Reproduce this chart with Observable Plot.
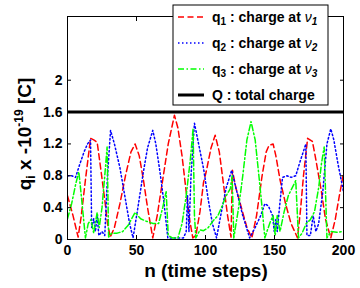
<!DOCTYPE html>
<html><head><meta charset="utf-8">
<script src="https://cdn.jsdelivr.net/npm/d3@7"></script>
<script src="https://cdn.jsdelivr.net/npm/@observablehq/plot@0.6"></script>
<style>body{margin:0;background:#fff}#c{width:360px;height:288px}</style>
</head><body><div id="c"></div><script>
// q1 : charge at v1 (red dashed)
const q1N = [0,4,7.7,10,13,16.7,19,21.5,24,27,29,31,34,38,42,46,49,52,55,58,61.8,65,69,73,77.5,80,83,86,88.5,90.8,93,96,98.6,100.5,104,107,110,113,116,118.5,119.5,122,126,130,133.6,137,141,144,146,149,151,154,158,162,166.7,169,171,174,177.5,180,184,187,190.8,194,197,200];
const q1V = [0.55,0.3,0.03,0.3,0.75,1.27,1.25,1.22,0.9,0.5,0.2,0.03,0.15,0.45,0.8,1.1,1.2,1.05,0.75,0.4,0.02,0.3,0.75,1.2,1.56,1.4,1.05,0.6,0.25,0.02,0.05,0.35,0.72,0.85,1.15,1.31,1.1,0.7,0.3,0.03,0.87,0.65,0.4,0.15,0.02,0.3,0.8,1.1,1.18,1.2,1.05,0.75,0.45,0.2,0.02,0.4,0.8,1.27,1.23,1.0,0.6,0.25,0.02,0.25,0.55,0.83];
// q2 : charge at v2 (blue dotted)
const q2N = [0,3,5.8,9,12,14.5,16.7,17.5,19,20.2,21.5,22.7,25,27,29,31.2,34,38,42,45,47.5,51,55,58,61.8,64,67,70,72.7,78,84,86,87,88,89.5,92,95,98.6,102,105,108,111,115,119,122,127,132,136,140,143,145.6,148.6,149.8,151,152,153.6,155.8,159,162,165.4,168,172.7,173.5,176,178,180,182,185,188,190.8,193,196,200];
const q2V = [0.8,0.8,0.78,0.95,1.1,1.2,1.25,0.15,0.26,0.1,0.3,0.05,0.1,0.05,0.8,1.37,1.2,0.9,0.5,0.2,0.02,0.4,0.85,1.15,1.37,1.2,0.85,0.45,0.02,0.02,0.02,0.1,0.55,0.1,0.8,1.46,1.2,0.89,0.5,0.2,0.02,0.3,0.65,0.87,0.65,0.3,0.02,0.15,0.3,0.45,0.42,0.3,0.1,0.25,0.1,0.4,0.78,0.8,0.78,0.8,0.95,1.2,0.05,0.05,0.3,0.1,0.2,0.6,1.2,1.39,1.25,0.95,0.6];
// q3 : charge at v3 (green dash-dot)
const q3N = [0,3,6,8.2,10,13,15,17,19,21.5,23,25,27,28.7,29.8,32,36,40,44,49,53,57,62,66,69,71.5,73,76,80,83,86,89,91,92,93,96,98.6,102,105.8,109,112,115,118,119.3,120.5,124,127,130,133,136,139,141,143,144.5,146.9,149,150.5,152,154,157,160,165.4,167.4,170,173,176,179,182,184,186,188,191,195,200];
const q3V = [0.26,0.45,0.7,0.85,0.55,0.02,0.2,0.25,0.08,0.34,0.15,0.4,0.8,1.16,0.03,0.08,0.08,0.1,0.18,0.34,0.26,0.23,0.2,0.2,0.4,0.6,0.05,0.02,0.02,0.2,0.55,1.0,1.39,0.3,0.02,0.12,0.11,0.15,0.24,0.3,0.42,0.55,0.64,0.8,0.02,0.4,0.8,1.25,1.48,1.25,0.75,0.4,0.02,0.1,0.22,0.3,0.05,0.3,0.1,0.35,0.55,0.74,0.02,0.08,0.2,0.25,0.35,0.65,0.95,1.16,0.02,0.1,0.09,0.1];
// Q : total charge
const totalQ = 1.6;
const xTicks = [0,50,100,150,200];
const yTicks = [0,0.4,0.8,1.2,1.6,2];

const rows = (N,V) => N.map((n,i) => ({n, v: V[i]}));
const font = "'Liberation Sans', Arial, Helvetica, sans-serif";
const fmt = d => String(d);

const chart = Plot.plot({
  width: 360, height: 288,
  marginLeft: 67, marginRight: 17, marginTop: 16, marginBottom: 49,
  x: {domain: [0,200]},
  y: {domain: [0,2.8]},
  style: {fontFamily: font, fontWeight: "bold", fontSize: "14px", color: "#000", background: "#fff"},
  marks: [
    Plot.line(rows(q1N,q1V), {x:"n", y:"v", stroke:"#ff0000", strokeWidth:1.5, strokeDasharray:"6,3.5", clip:true}),
    Plot.line(rows(q2N,q2V), {x:"n", y:"v", stroke:"#0000ff", strokeWidth:1.5, strokeDasharray:"1.5,2.5", clip:true}),
    Plot.line(rows(q3N,q3V), {x:"n", y:"v", stroke:"#00ff00", strokeWidth:1.5, strokeDasharray:"6,2.5,1.5,2.5", clip:true}),
    Plot.ruleY([totalQ], {stroke:"#000", strokeWidth:3}),
    Plot.frame({stroke:"#000", strokeWidth:1}),
    Plot.axisX({ticks:xTicks, tickSize:0, tickPadding:6, tickFormat:fmt, label:null}),
    Plot.axisX({ticks:xTicks, tickSize:4, dy:-4, tickFormat:()=>"", label:null}),
    Plot.axisX({ticks:xTicks, anchor:"top", tickSize:4, dy:4, tickFormat:()=>"", label:null}),
    Plot.axisY({ticks:yTicks, tickSize:0, tickPadding:5, tickFormat:fmt, label:null}),
    Plot.axisY({ticks:yTicks, tickSize:4, dx:4, tickFormat:()=>"", label:null}),
    Plot.axisY({ticks:yTicks, anchor:"right", tickSize:4, dx:-4, tickFormat:()=>"", label:null})
  ]
});
document.getElementById("c").appendChild(chart);

const svg = d3.select(chart);
// axis titles
svg.append("text").attr("x", 206).attr("y", 277).attr("text-anchor","middle")
  .attr("font-family", font).attr("font-weight","bold").attr("font-size", 19).attr("fill","#000")
  .text("n (time steps)");
const yl = svg.append("text").attr("transform","translate(31,134) rotate(-90)").attr("text-anchor","middle")
  .attr("font-family", font).attr("font-weight","bold").attr("font-size", 19).attr("fill","#000");
yl.append("tspan").text("q");
yl.append("tspan").attr("font-size",12).attr("dy",4).text("i");
yl.append("tspan").attr("dy",-4).text(" x -10");
yl.append("tspan").attr("font-size",12).attr("dy",-8).text("-19");
yl.append("tspan").attr("dy",8).text(" [C]");

// legend
const lg = svg.append("g").attr("font-family", font).attr("font-weight","bold").attr("font-size", 14)
  .attr("fill","#000").attr("text-anchor","start");
lg.append("rect").attr("x",173).attr("y",5).attr("width",155).attr("height",100).attr("fill","#fff").attr("stroke","#000");
const styles = [
  {stroke:"#ff0000", dash:"6,3.5", w:1.5, sym:"q", sub:"1"},
  {stroke:"#0000ff", dash:"1.5,2.5", w:1.5, sym:"q", sub:"2"},
  {stroke:"#00ff00", dash:"6,2.5,1.5,2.5", w:1.5, sym:"q", sub:"3"},
  {stroke:"#000", dash:null, w:3, sym:"Q", sub:null}
];
styles.forEach((s,i) => {
  const y = 17 + i*26;
  lg.append("line").attr("x1",178).attr("x2",204).attr("y1",y).attr("y2",y)
    .attr("stroke",s.stroke).attr("stroke-width",s.w).attr("stroke-dasharray",s.dash);
  const t = lg.append("text").attr("x",212).attr("y",y+5).attr("text-anchor","start");
  t.append("tspan").text(s.sym);
  if (s.sub) {
    t.append("tspan").attr("font-size",10).attr("dy",3).text(s.sub);
    t.append("tspan").attr("dy",-3).text(" : charge at ");
    t.append("tspan").attr("font-style","italic").attr("font-weight","normal").text("ν");
    t.append("tspan").attr("font-size",10).attr("font-style","italic").attr("dy",3).text(s.sub);
  } else {
    t.append("tspan").text(" : total charge");
  }
});
</script></body></html>
